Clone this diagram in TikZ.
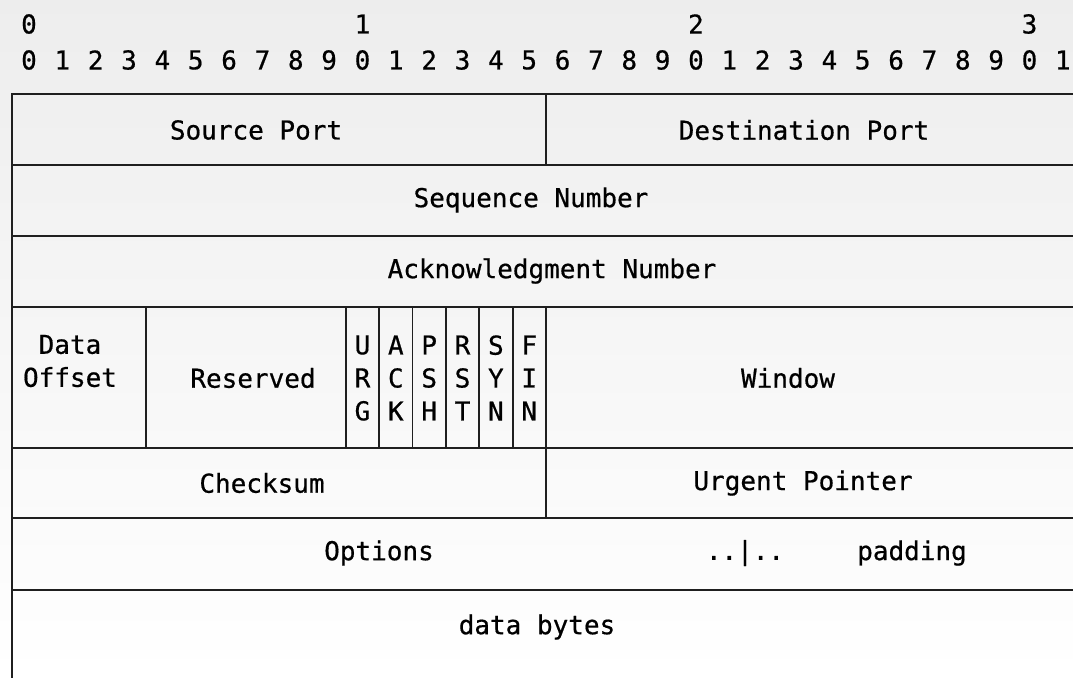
\documentclass[tikz,border=0pt]{standalone}
\usepackage{fontspec}
\newfontfamily\hdrmono[FakeBold=0.6]{DejaVu Sans Mono}
\begin{document}
\begin{tikzpicture}[x=1pt,y=-1pt,
  rule/.style={line width=1.9pt, draw=black!88, line cap=rect},
  lbl/.style={font=\hdrmono\fontsize{26}{33}\selectfont, inner sep=0pt,
              text=black, align=center}]
\useasboundingbox (0,0) rectangle (1073,677);
\shade[top color=black!7, bottom color=white] (0,0) rectangle (1073,677);

% bit ruler: tens and units
\foreach \i/\t in {0/0,10/1,20/2,30/3}
  \node[lbl] (tens\t) at ({12.3+33.35*(\i+0.5)},24) {\t};
\foreach \i in {0,...,31}{
  \pgfmathtruncatemacro\u{mod(\i,10)}
  \node[lbl] (bit\i) at ({12.3+33.35*(\i+0.5)},60) {\u};
}

% row separators and left edge
\foreach \y in {94,165,236,307,448,518,590}
  \draw[rule] (12.3,\y) -- (1073,\y);
\draw[rule] (12.3,94) -- (12.3,677);

% field separators
\draw[rule] (545.9,94) -- (545.9,165);
\draw[rule] (545.9,307) -- (545.9,518);
\foreach \b in {4,10,11,12,13,14,15}
  \draw[rule] ({12.3+33.35*\b},307) -- ({12.3+33.35*\b},448);

% field labels
\node[lbl] (srcport) at (256,130) {Source Port};
\node[lbl] (dstport) at (804,130) {Destination Port};
\node[lbl] (seqnum)  at (531,200) {Sequence Number};
\node[lbl] (acknum)  at (552,271) {Acknowledgment Number};
\node[lbl] (doff)    at (70,361)  {Data\\Offset};
\node[lbl] (rsvd)    at (253,378) {Reserved};
\foreach \f/\a/\b/\c [count=\k from 0] in {urg/U/R/G,ack/A/C/K,psh/P/S/H,rst/R/S/T,syn/S/Y/N,fin/F/I/N}
  \node[lbl] (flag\f) at ({12.3+33.35*(10.5+\k)},378) {\a\\\b\\\c};
\node[lbl] (window)  at (788,378) {Window};
\node[lbl] (cksum)   at (262,483) {Checksum};
\node[lbl] (urgptr)  at (803,483) {Urgent Pointer};
\node[lbl] (options) at (379,553) {Options};
\node[lbl] (optcont) at (745,553) {..|..};
\node[lbl] (padding) at (912,553) {padding};
\node[lbl] (data)    at (537,627) {data bytes};
\end{tikzpicture}
\end{document}
